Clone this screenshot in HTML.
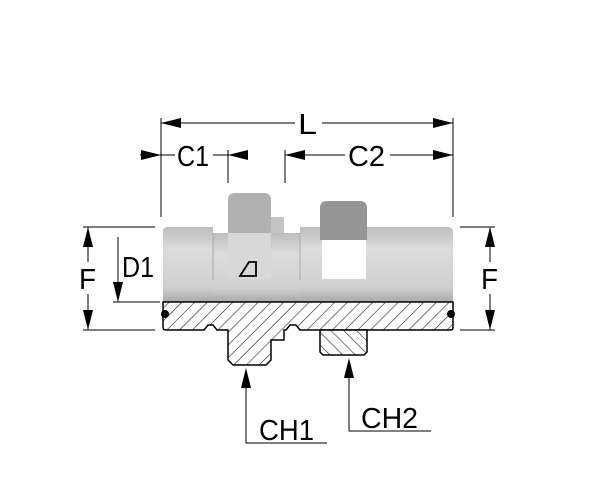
<!DOCTYPE html>
<html><head><style>body{margin:0;background:#fff}svg{display:block}</style></head><body>
<svg width="600" height="491" viewBox="0 0 600 491" xmlns="http://www.w3.org/2000/svg" font-family="Liberation Sans, sans-serif">
<defs>
<linearGradient id="g" x1="0" y1="0" x2="0" y2="1">
<stop offset="0" stop-color="#bdbdbd"/><stop offset="0.3" stop-color="#dcdcdc"/><stop offset="0.8" stop-color="#d0d0d0"/><stop offset="1" stop-color="#a8a8a8"/></linearGradient>
<pattern id="h" width="9" height="9" patternUnits="userSpaceOnUse" patternTransform="rotate(45)"><rect width="9" height="9" fill="#fff"/><line x1="0" y1="0" x2="0" y2="9" stroke="#222" stroke-width="1.2"/></pattern>
<pattern id="h2" width="9" height="9" patternUnits="userSpaceOnUse" patternTransform="rotate(-45)"><rect width="9" height="9" fill="#fff"/><line x1="0" y1="0" x2="0" y2="9" stroke="#222" stroke-width="1.2"/></pattern>
</defs>
<path d="M163 231 Q163 227 168 227 L213 227 L213 233 L228 233 L228 302 L163 302 Z" fill="url(#g)"/>
<rect x="213" y="233" width="90" height="69" fill="url(#g)"/>
<path d="M300 227 L448 227 Q453 227 453 232 L453 302 L300 302 Z" fill="url(#g)"/>
<path d="M271 217 L284 217 L284 233 L271 233 Z" fill="#c4c4c4"/>
<path d="M228 200 Q228 193 235 193 L264 193 Q271 193 271 200 L271 233 L228 233 Z" fill="#b0b0b0"/>
<path d="M228 233 L271 233 L271 279 L228 279 Z" fill="#d8d8d8"/>
<path d="M320 208 Q320 201 327 201 L360 201 Q367 201 367 208 L367 240 L320 240 Z" fill="#959595"/>
<rect x="322" y="240" width="44" height="39" fill="#fff"/>
<line x1="213" y1="233" x2="213" y2="280" stroke="#aaa"/>
<line x1="300" y1="233" x2="300" y2="280" stroke="#aaa"/>
<path d="M240 276 L249 262 L256 262 L256 276 Z" fill="none" stroke="#000" stroke-width="1.8"/>
<path d="M163 302 L453 302 L453 328 Q453 330 450 330 L300 330 L296 325 L290 325 L286 330 L284 330 L284 340 L271 340 L271 360 L266 365 L233 365 L228 360 L228 330 L217 330 L213 325 L208 325 L204 330 L166 330 Q163 330 163 327 Z" fill="url(#h)" stroke="#000" stroke-width="1.5"/>
<path d="M320 330 L367 330 L367 352 L364 355 L323 355 L320 352 Z" fill="url(#h2)" stroke="#000" stroke-width="1.5"/>
<circle cx="165" cy="314" r="4" fill="#000"/><circle cx="451" cy="314" r="4" fill="#000"/>
<g stroke="#000" stroke-width="1" fill="none">
<line x1="161" y1="118" x2="161" y2="217"/><line x1="453" y1="118" x2="453" y2="217"/>
<line x1="161" y1="123" x2="295" y2="123"/><line x1="322" y1="123" x2="453" y2="123"/>
<line x1="228" y1="150" x2="228" y2="183"/><line x1="285" y1="150" x2="285" y2="183"/>
<line x1="140" y1="155" x2="175" y2="155"/><line x1="213" y1="155" x2="248" y2="155"/>
<line x1="285" y1="155" x2="345" y2="155"/><line x1="390" y1="155" x2="453" y2="155"/>
<line x1="83" y1="227" x2="155" y2="227"/><line x1="83" y1="330" x2="155" y2="330"/>
<line x1="113" y1="302" x2="160" y2="302"/>
<line x1="88" y1="227" x2="88" y2="262"/><line x1="88" y1="294" x2="88" y2="330"/>
<line x1="118" y1="237" x2="118" y2="302"/>
<line x1="460" y1="227" x2="495" y2="227"/><line x1="460" y1="330" x2="495" y2="330"/>
<line x1="490" y1="227" x2="490" y2="262"/><line x1="490" y1="294" x2="490" y2="330"/>
<polyline points="246,375 246,443 327,443"/><polyline points="349,365 349,431 431,431"/>
</g>
<g fill="#000">
<path d="M161 123 l20 -5 v10z"/><path d="M453 123 l-20 -5 v10z"/>
<path d="M161 155 l-20 -5 v10z"/><path d="M228 155 l20 -5 v10z"/>
<path d="M285 155 l20 -5 v10z"/><path d="M453 155 l-20 -5 v10z"/>
<path d="M88 227 l-5 20 h10z"/><path d="M88 330 l-5 -20 h10z"/>
<path d="M490 227 l-5 20 h10z"/><path d="M490 330 l-5 -20 h10z"/>
<path d="M118 302 l-5 -20 h10z"/>
<path d="M246 368 l-5 20 h10z"/><path d="M349 358 l-5 20 h10z"/>
</g>
<g font-size="29" fill="#000" lengthAdjust="spacingAndGlyphs">
<text x="298" y="134" textLength="19" lengthAdjust="spacingAndGlyphs">L</text>
<text x="177" y="166" textLength="32" lengthAdjust="spacingAndGlyphs">C1</text>
<text x="348" y="166" textLength="37" lengthAdjust="spacingAndGlyphs">C2</text>
<text x="79" y="289" textLength="17" lengthAdjust="spacingAndGlyphs">F</text>
<text x="481" y="289" textLength="17" lengthAdjust="spacingAndGlyphs">F</text>
<text x="122" y="277" textLength="32" lengthAdjust="spacingAndGlyphs">D1</text>
<text x="259" y="440" textLength="55" lengthAdjust="spacingAndGlyphs">CH1</text>
<text x="361" y="428" textLength="57" lengthAdjust="spacingAndGlyphs">CH2</text>
</g>
</svg>
</body></html>
